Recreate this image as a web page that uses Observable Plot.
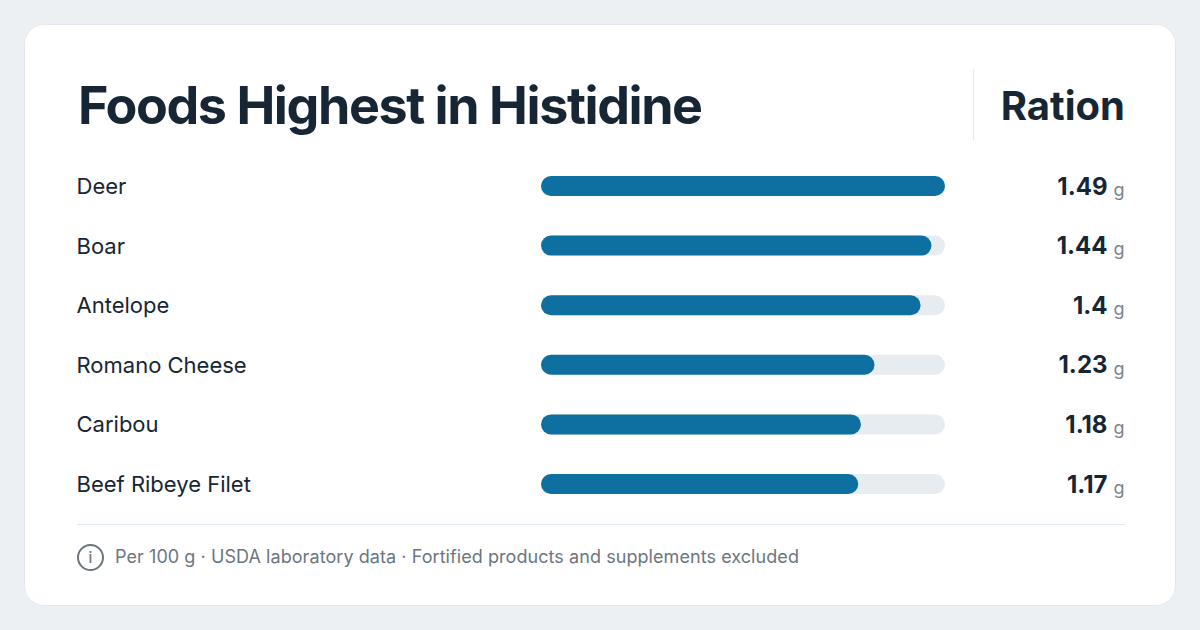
<!DOCTYPE html>
<html>
<head>
<meta charset="utf-8">
<script src="https://cdn.jsdelivr.net/npm/d3@7"></script>
<script src="https://cdn.jsdelivr.net/npm/@observablehq/plot@0.6"></script>
<style>
html,body{margin:0;padding:0;width:1200px;height:630px;overflow:hidden;background:#edf0f3;font-family:Inter,sans-serif;}
#card{position:absolute;left:24px;top:24px;width:1150px;height:580px;background:#fff;border:1px solid #e2e8f0;border-radius:20px;}
#title{position:absolute;left:78px;top:73px;font-size:52px;line-height:66px;font-weight:700;color:#172635;letter-spacing:-1.43px;white-space:nowrap;}
#head{position:absolute;right:75px;top:81px;font-size:40px;line-height:50px;font-weight:700;color:#172635;white-space:nowrap;}
#vline{position:absolute;left:973px;top:69px;width:1px;height:71px;background:#e2e8f0;}
#hline{position:absolute;left:77px;top:524px;width:1048px;height:1px;background:#e2e8f0;}
#plot{position:absolute;left:0;top:0;}
#note{position:absolute;left:115px;top:545px;font-size:18px;line-height:24px;letter-spacing:0.065px;color:#6b7680;white-space:nowrap;}
#icon{position:absolute;left:77px;top:544px;width:23px;height:23px;border:2px solid #6b7680;border-radius:50%;font-size:15px;font-weight:500;line-height:23px;text-align:center;color:#6b7680;}
</style>
</head>
<body>
<div id="card"></div>
<div id="title">Foods Highest in Histidine</div>
<div id="vline"></div>
<div id="head">Ration</div>
<div id="plot"></div>
<div id="hline"></div>
<div id="icon">i</div>
<div id="note">Per 100 g · USDA laboratory data · Fortified products and supplements excluded</div>
<script>
const foods = ["Deer","Boar","Antelope","Romano Cheese","Caribou","Beef Ribeye Filet"];
const amounts = [1.49,1.44,1.4,1.23,1.18,1.17];
const unit = "g";
const scaleMax = 1.49;
const rows = foods.map((food,i)=>({food,amount:amounts[i]}));
const font = "Inter, sans-serif";
const chart = Plot.plot({
  width:1200,height:630,
  marginLeft:77,marginRight:75,marginTop:176,marginBottom:136,
  style:{background:"transparent",fontFamily:font},
  x:{domain:[0,scaleMax],range:[541,945],axis:null},
  y:{domain:foods,paddingInner:0.665,paddingOuter:0,round:false,axis:null},
  marks:[
    Plot.barX(rows,{x1:0,x2:scaleMax,y:"food",fill:"#e7ecf1",rx:10}),
    Plot.barX(rows,{x1:0,x2:"amount",y:"food",fill:"#0e70a0",rx:10}),
    Plot.text(rows,{y:"food",text:"food",frameAnchor:"left",textAnchor:"start",dx:-1,dy:0.5,fontSize:22,fontWeight:400,fill:"#172635"}),
    Plot.text(rows,{y:"food",text:d=>String(d.amount),frameAnchor:"right",textAnchor:"end",dx:-18,dy:0.5,fontSize:24,fontWeight:700,fill:"#172635"}),
    Plot.text(rows,{y:"food",text:()=>unit,frameAnchor:"right",textAnchor:"end",dy:3.5,dx:-1,fontSize:18,fontWeight:400,fill:"#7a848d"})
  ]
});
document.getElementById("plot").appendChild(chart);
</script>
</body>
</html>
